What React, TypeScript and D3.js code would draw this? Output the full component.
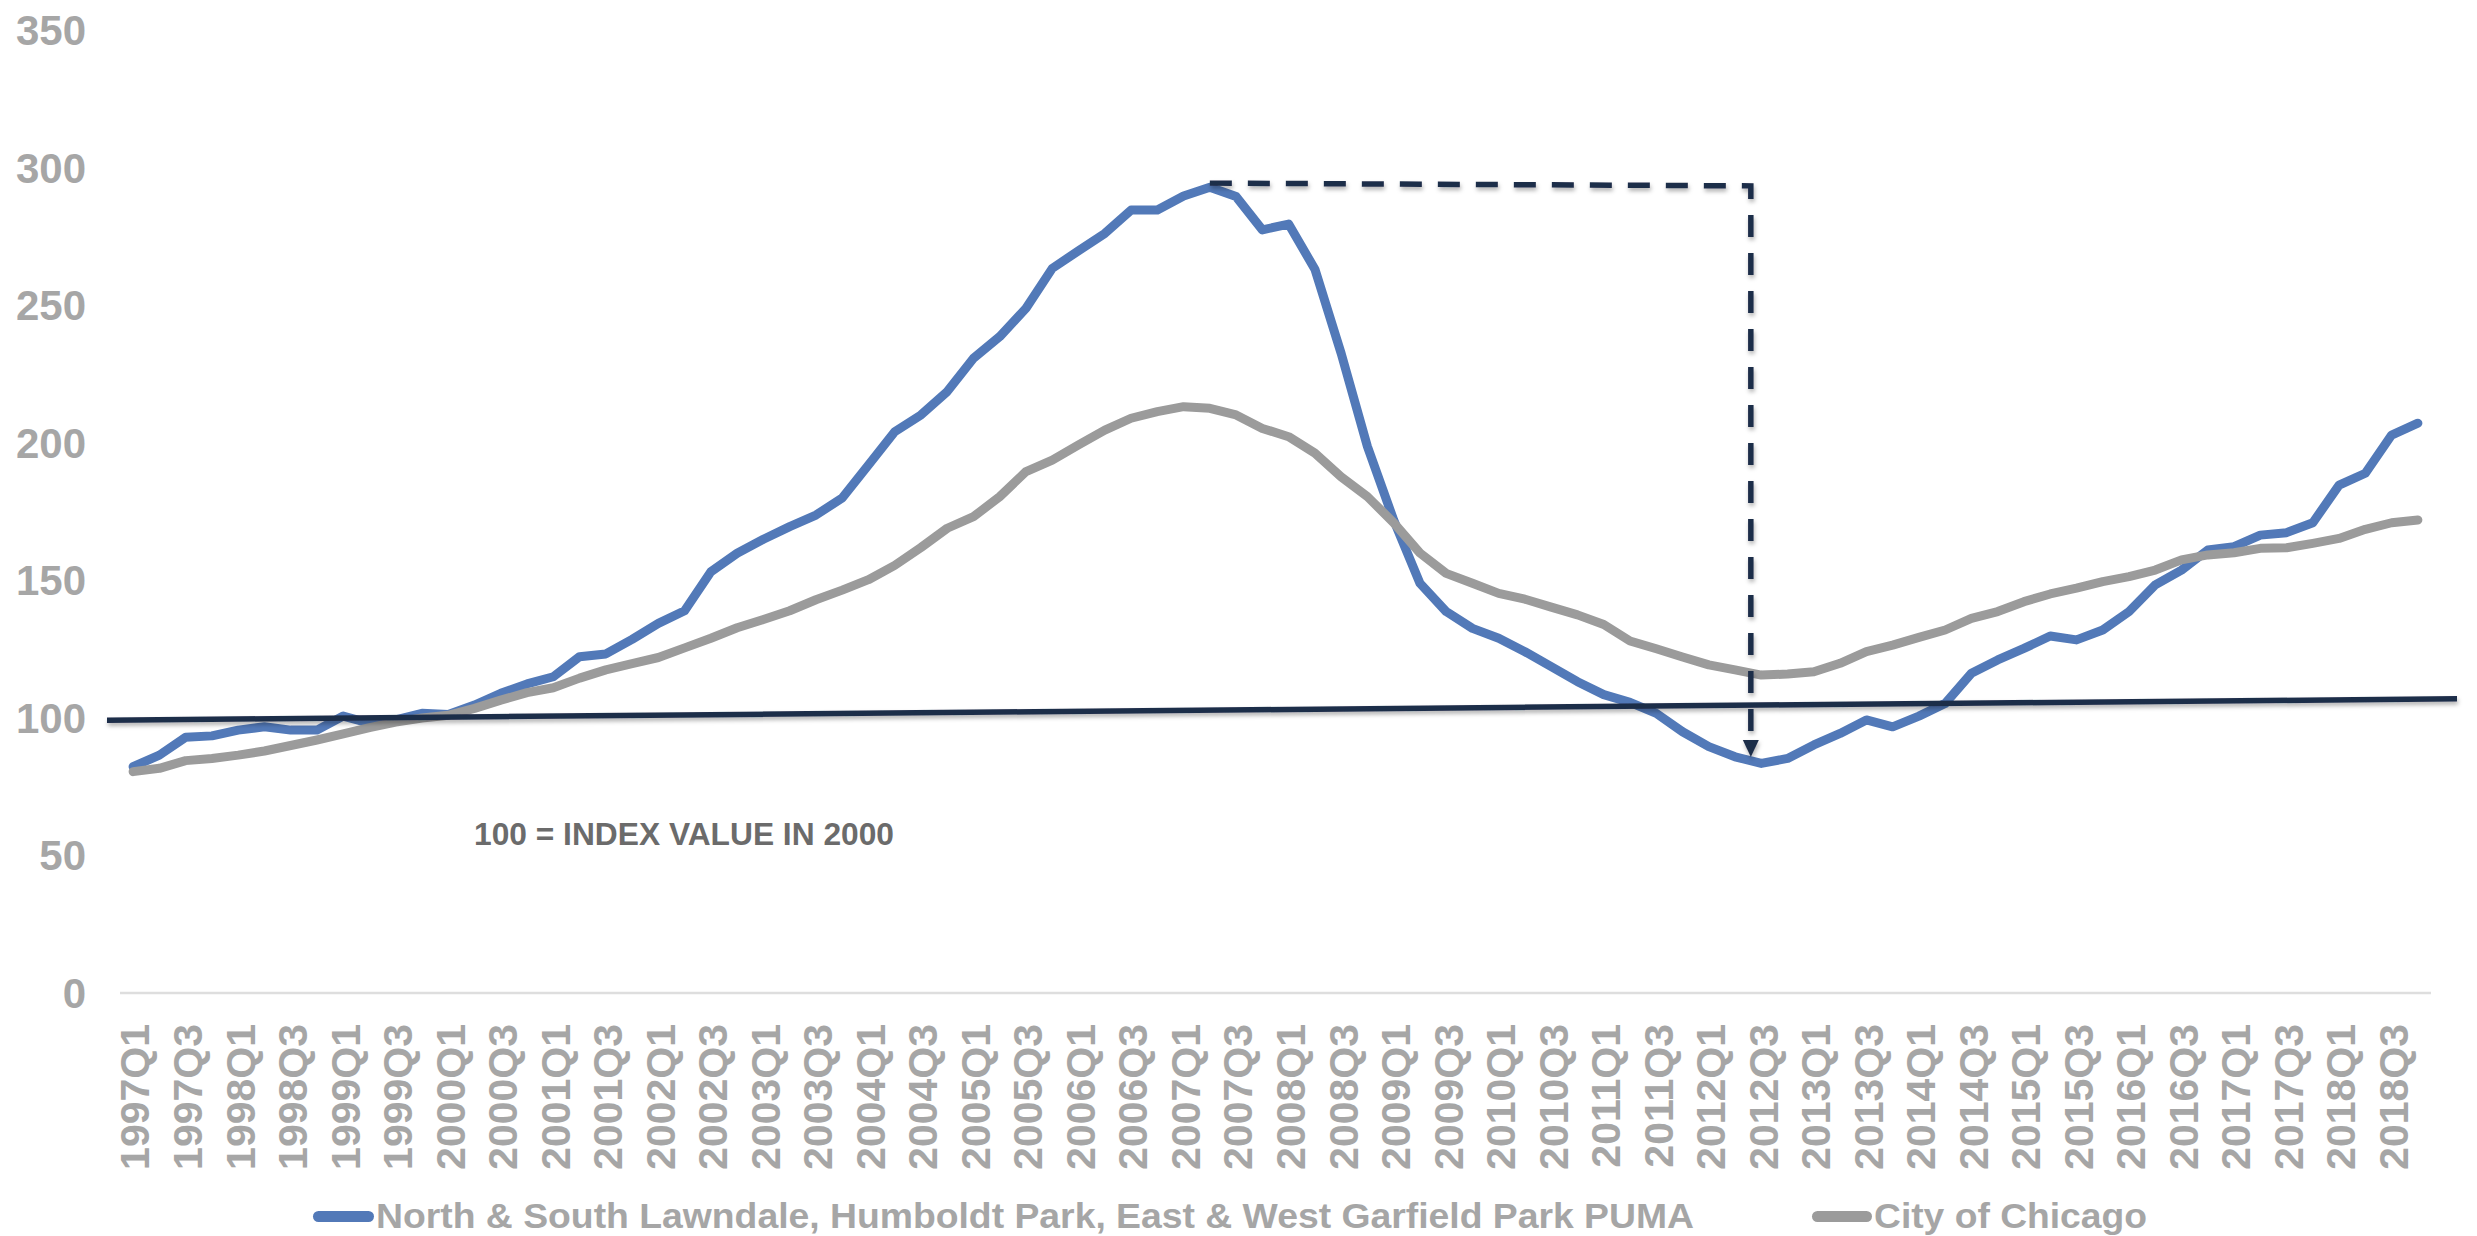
import React from 'react';
import * as d3 from 'd3';

const YEARS = [1997, 1998, 1999, 2000, 2001, 2002, 2003, 2004, 2005, 2006, 2007, 2008, 2009, 2010, 2011, 2012, 2013, 2014, 2015, 2016, 2017, 2018];
const QUARTERS = ['Q1', 'Q2', 'Q3', 'Q4'];
const CATEGORIES = YEARS.flatMap((yr) => QUARTERS.map((q) => `${yr}${q}`));

const PUMA_VALUES = [
  82.3, 86.5, 93.0, 93.5, 95.6, 96.8, 95.6, 95.6, 100.7, 98.1, 99.3, 101.7, 101.3, 104.7, 109.0, 112.4,
  115.0, 122.3, 123.3, 128.6, 134.4, 139.0, 153.2, 159.9, 165.0, 169.6, 173.8, 180.0, 192.0, 204.1, 210.2, 218.7,
  230.8, 238.7, 249.0, 263.5, 269.9, 276.2, 284.7, 284.7, 289.8, 293.0, 289.6, 277.5, 279.6, 263.2, 232.6, 198.7,
  172.0, 149.0, 138.7, 132.6, 129.0, 124.1, 118.7, 113.2, 108.5, 105.7, 101.7, 95.0, 89.6, 85.9, 83.5, 85.3,
  90.2, 94.4, 99.3, 96.8, 100.7, 105.3, 116.3, 121.1, 125.3, 129.8, 128.4, 132.0, 138.7, 148.4, 153.8, 161.1,
  162.3, 166.5, 167.4, 171.0, 184.7, 189.0, 202.9, 207.2,
];

const CHICAGO_VALUES = [
  80.5, 81.7, 84.5, 85.3, 86.5, 88.0, 90.0, 92.0, 94.2, 96.5, 98.5, 100.0, 101.0, 103.5, 106.5, 109.2,
  111.0, 114.5, 117.5, 119.8, 122.0, 125.5, 129.0, 132.8, 135.8, 139.0, 143.0, 146.5, 150.3, 155.5, 162.0, 169.0,
  173.2, 180.5, 189.6, 193.8, 199.3, 204.7, 209.0, 211.4, 213.2, 212.6, 210.2, 205.3, 202.3, 196.3, 187.7, 180.5,
  171.0, 160.0, 152.6, 149.0, 145.3, 143.2, 140.3, 137.5, 134.0, 128.0, 125.2, 122.2, 119.3, 117.5, 115.6, 116.0,
  116.8, 119.9, 124.1, 126.5, 129.3, 132.0, 136.2, 138.7, 142.3, 145.1, 147.2, 149.6, 151.4, 153.8, 157.5, 159.3,
  160.1, 161.7, 161.9, 163.5, 165.3, 168.6, 171.0, 172.0,
];

const Y_TICKS = [0, 50, 100, 150, 200, 250, 300, 350];
const SERIES_NAMES = ['North & South Lawndale, Humboldt Park, East & West Garfield Park PUMA', 'City of Chicago'];
const SERIES_COLORS = ['#5279b8', '#9b9b9b'];
const NOTE_TEXT = '100 = INDEX VALUE IN 2000';
// reference "100" line: values at left and right end
const REF_LINE_VALUES = [99.2, 107.0];
// annotation: from peak (index, value) across to trough index, then down to value
const ANNOT_START = { index: 41, value: 294.5 };
const ANNOT_CORNER = { index: 61.6, value: 293.5 };
const ANNOT_END_VALUE = 85.8;

export default function App() {
  const W = 2477;
  const H = 1236;
  const plot = { left: 120, right: 2431, top: 30.5, bottom: 993 };

  const x = d3.scaleBand<string>().domain(CATEGORIES).range([plot.left, plot.right]).padding(0);
  const cx = (c: string) => (x(c) as number) + x.bandwidth() / 2;
  const xi = d3
    .scaleLinear()
    .domain([0, CATEGORIES.length - 1])
    .range([cx(CATEGORIES[0]), cx(CATEGORIES[CATEGORIES.length - 1])]);
  const y = d3.scaleLinear().domain([0, 350]).range([plot.bottom, plot.top]);

  const line = d3
    .line<number>()
    .x((_, i) => xi(i))
    .y((d) => y(d));

  const font = "'Liberation Sans', Arial, sans-serif";
  const navy = '#1f2d4a';

  const annX0 = xi(ANNOT_START.index);
  const annY0 = y(ANNOT_START.value);
  const annX1 = xi(ANNOT_CORNER.index);
  const annY1 = y(ANNOT_CORNER.value);
  const tipY = y(ANNOT_END_VALUE);
  const headLen = 17;
  const headHalf = 8;

  const legendItems = [
    { name: SERIES_NAMES[0], color: SERIES_COLORS[0], x0: 313, x1: 374, tx: 376, tw: 1318 },
    { name: SERIES_NAMES[1], color: SERIES_COLORS[1], x0: 1812, x1: 1872, tx: 1874, tw: 273 },
  ];

  return (
    <svg
      width={W}
      height={H}
      viewBox={`0 0 ${W} ${H}`}
      style={{ position: 'absolute', left: 0, top: 0, background: '#fff' }}
    >
      <defs>
        <filter id="shadow" x="-5%" y="-50%" width="110%" height="300%">
          <feDropShadow dx="1" dy="3" stdDeviation="2" floodColor="#000" floodOpacity="0.3" />
        </filter>
        <filter id="shadow2" x="-50%" y="-5%" width="300%" height="110%">
          <feDropShadow dx="1" dy="3" stdDeviation="2" floodColor="#000" floodOpacity="0.3" />
        </filter>
      </defs>
      <rect x={0} y={0} width={W} height={H} fill="#fff" />

      {/* baseline gridline */}
      <line x1={plot.left} x2={plot.right} y1={y(0)} y2={y(0)} stroke="#dedede" strokeWidth={2.5} />

      {/* y tick labels */}
      {Y_TICKS.map((t) => (
        <text
          key={t}
          x={86}
          y={y(t)}
          dy="0.35em"
          textAnchor="end"
          fontFamily={font}
          fontWeight="bold"
          fontSize={42}
          fill="#a6a6a6"
        >
          {t}
        </text>
      ))}

      {/* x tick labels */}
      {CATEGORIES.map((c, i) =>
        i % 2 === 0 ? (
          <text
            key={c}
            transform={`translate(${xi(i) + 2},1024) rotate(-90)`}
            dy="0.35em"
            textAnchor="end"
            fontFamily={font}
            fontWeight="bold"
            fontSize={41}
            fill="#a6a6a6"
          >
            {c}
          </text>
        ) : null
      )}

      {/* series */}
      <path
        d={line(PUMA_VALUES) || ''}
        fill="none"
        stroke={SERIES_COLORS[0]}
        strokeWidth={9}
        strokeLinejoin="round"
        strokeLinecap="round"
      />
      <path
        d={line(CHICAGO_VALUES) || ''}
        fill="none"
        stroke={SERIES_COLORS[1]}
        strokeWidth={9}
        strokeLinejoin="round"
        strokeLinecap="round"
      />

      {/* reference 100 line */}
      <line
        x1={plot.left - 13}
        x2={plot.right + 26}
        y1={y(REF_LINE_VALUES[0])}
        y2={y(REF_LINE_VALUES[1])}
        stroke={navy}
        strokeWidth={5.5}
        filter="url(#shadow)"
      />

      {/* note text */}
      <text
        x={474}
        y={845}
        textLength={420}
        lengthAdjust="spacingAndGlyphs"
        fontFamily={font}
        fontWeight="bold"
        fontSize={31}
        fill="#6b6b6b"
      >
        {NOTE_TEXT}
      </text>

      {/* dashed annotation */}
      <g filter="url(#shadow2)">
        <path
          d={`M${annX0},${annY0} L${annX1},${annY1} L${annX1},${tipY - headLen}`}
          fill="none"
          stroke={navy}
          strokeWidth={5.5}
          strokeDasharray="22 16"
        />
        <path
          d={`M${annX1 - headHalf},${tipY - headLen} L${annX1 + headHalf},${tipY - headLen} L${annX1},${tipY} Z`}
          fill={navy}
        />
      </g>

      {/* legend */}
      {legendItems.map((it) => (
        <g key={it.name}>
          <line
            x1={it.x0 + 5.5}
            x2={it.x1 - 5.5}
            y1={1216.5}
            y2={1216.5}
            stroke={it.color}
            strokeWidth={11}
            strokeLinecap="round"
          />
          <text
            x={it.tx}
            y={1228}
            textLength={it.tw}
            lengthAdjust="spacingAndGlyphs"
            fontFamily={font}
            fontWeight="bold"
            fontSize={35}
            fill="#a6a6a6"
          >
            {it.name}
          </text>
        </g>
      ))}
    </svg>
  );
}
